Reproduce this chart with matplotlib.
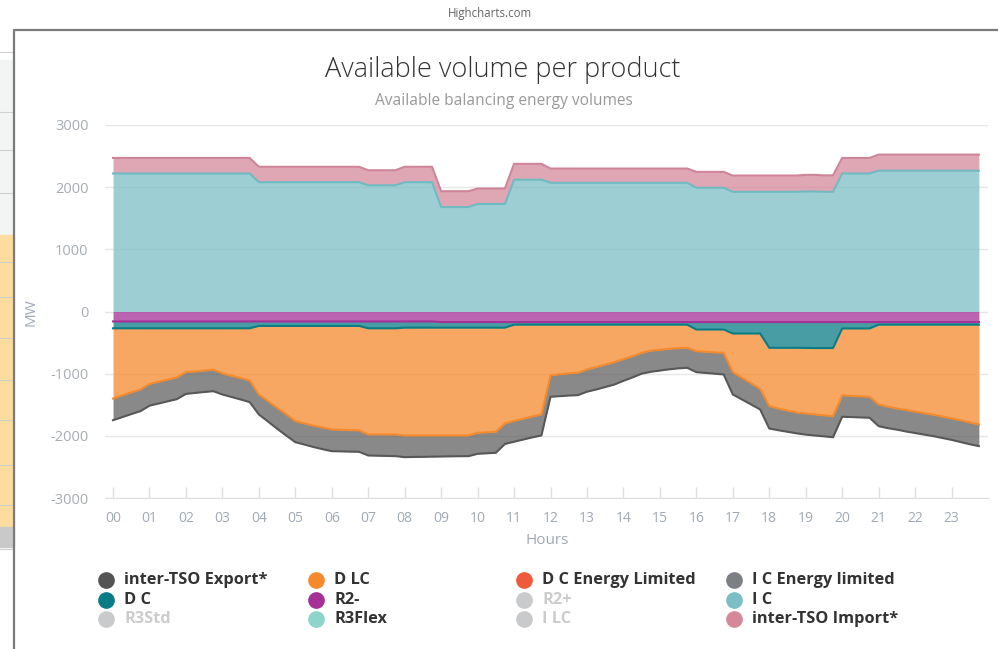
import numpy as np
import matplotlib.pyplot as plt
from matplotlib.lines import Line2D
from matplotlib.patches import Rectangle

# quarter-hour steps over the day
quarter = np.arange(96) / 4
hour_ticks = np.arange(24)
hour_labels = [f"{h:02d}" for h in range(24)]

y_ticks = [-3000, -2000, -1000, 0, 1000, 2000, 3000]
y_tick_labels = ["-3000", "-2000", "-1000", "0", "1000", "2000", "3000"]

# positive stack (MW)
ic = [
    2220, 2220, 2220, 2220, 2220, 2220, 2220, 2220, 2220, 2220, 2220, 2220,
    2220, 2220, 2220, 2220, 2080, 2080, 2080, 2080, 2080, 2080, 2080, 2080,
    2080, 2080, 2080, 2080, 2030, 2030, 2030, 2030, 2080, 2080, 2080, 2080,
    1680, 1680, 1680, 1680, 1730, 1730, 1730, 1730, 2120, 2120, 2120, 2120,
    2070, 2070, 2070, 2070, 2070, 2070, 2070, 2070, 2070, 2070, 2070, 2070,
    2070, 2070, 2070, 2070, 1990, 1990, 1990, 1990, 1925, 1925, 1925, 1925,
    1925, 1925, 1925, 1925, 1930, 1930, 1925, 1925, 2220, 2220, 2220, 2220,
    2265, 2265, 2265, 2265, 2265, 2265, 2265, 2265, 2265, 2265, 2265, 2265,
]
tso_import = [
    250, 250, 250, 250, 250, 250, 250, 250, 250, 250, 250, 250,
    250, 250, 250, 250, 248, 248, 248, 248, 248, 248, 248, 248,
    248, 248, 248, 248, 242, 242, 242, 242, 248, 248, 248, 248,
    255, 255, 255, 255, 248, 248, 248, 248, 255, 255, 255, 255,
    230, 230, 230, 230, 230, 230, 230, 230, 230, 230, 230, 230,
    230, 230, 230, 230, 256, 256, 256, 256, 262, 262, 262, 262,
    262, 262, 262, 262, 268, 268, 265, 265, 250, 250, 250, 250,
    259, 259, 259, 259, 259, 259, 259, 259, 259, 259, 259, 259,
]

# negative stack (MW)
r2_minus = [
    -160, -160, -160, -160, -160, -160, -160, -160, -160, -160, -160, -160,
    -160, -160, -160, -160, -160, -160, -160, -160, -160, -160, -160, -160,
    -160, -160, -160, -160, -160, -160, -160, -160, -160, -160, -160, -160,
    -170, -170, -170, -170, -170, -170, -170, -170, -170, -170, -170, -170,
    -170, -170, -170, -170, -170, -170, -170, -170, -170, -170, -170, -170,
    -170, -170, -170, -170, -170, -170, -170, -170, -170, -170, -170, -170,
    -170, -170, -170, -170, -170, -170, -170, -170, -170, -170, -170, -170,
    -170, -170, -170, -170, -170, -170, -170, -170, -170, -170, -170, -170,
]
dc = [
    -110, -110, -110, -110, -110, -110, -110, -110, -110, -110, -110, -110,
    -110, -110, -110, -110, -72, -72, -72, -72, -72, -72, -72, -72,
    -72, -72, -72, -72, -110, -110, -110, -110, -100, -100, -100, -100,
    -90, -90, -90, -90, -90, -90, -90, -90, -42, -42, -42, -42,
    -42, -42, -42, -42, -42, -42, -42, -42, -42, -42, -42, -42,
    -42, -42, -42, -42, -120, -120, -120, -120, -184, -184, -184, -184,
    -414, -414, -414, -414, -416, -418, -418, -418, -103, -103, -103, -103,
    -42, -42, -42, -42, -42, -42, -42, -42, -42, -42, -42, -42,
]
dlc = [
    -1130, -1080, -1030, -985, -895, -860, -825, -790, -705, -695, -680, -665,
    -725, -765, -800, -840, -1103, -1208, -1318, -1423, -1533, -1568, -1603, -1633,
    -1665, -1671, -1676, -1681, -1708, -1708, -1708, -1708, -1734, -1734, -1734, -1734,
    -1734, -1734, -1734, -1734, -1691, -1683, -1675, -1540, -1548, -1513, -1478, -1444,
    -817, -798, -783, -774, -718, -683, -643, -603, -553, -508, -453, -418,
    -403, -388, -378, -372, -348, -358, -367, -375, -622, -711, -801, -889,
    -938, -976, -1011, -1041, -1054, -1069, -1082, -1097, -1078, -1085, -1092, -1099,
    -1284, -1318, -1348, -1373, -1398, -1423, -1448, -1478, -1508, -1538, -1573, -1605,
]
tso_export = [
    -348, -350, -350, -348, -350, -350, -350, -350, -350, -345, -345, -347,
    -340, -340, -345, -348, -321, -330, -335, -340, -337, -340, -345, -350,
    -350, -347, -346, -344, -338, -342, -345, -349, -349, -346, -344, -341,
    -339, -336, -334, -333, -338, -338, -338, -330, -335, -335, -335, -338,
    -343, -352, -357, -360, -360, -360, -360, -360, -350, -340, -335, -340,
    -335, -330, -325, -322, -338, -340, -343, -348, -359, -350, -340, -333,
    -360, -350, -340, -335, -340, -338, -338, -338, -342, -340, -339, -337,
    -348, -346, -340, -345, -345, -345, -345, -345, -345, -350, -350, -349,
]

legend_names = [
    "inter-TSO Export*", "D LC", "D C Energy Limited", "I C Energy limited",
    "D C", "R2-", "R2+", "I C",
    "R3Std", "R3Flex", "I LC", "inter-TSO Import*",
]
legend_colors = [
    "#545454", "#f58a2d", "#ef5b3a", "#7c8085",
    "#0b7c86", "#a53097", "#c8cacc", "#7cbec6",
    "#c8cacc", "#8dd5ca", "#c8cacc", "#d5889a",
]
legend_hidden = [
    False, False, False, False,
    False, False, True, False,
    True, False, True, False,
]

W, H = 998, 649


def fx(px):
    return px / W


def fy(py):
    return 1 - py / H


def stack(ax, layers):
    base = np.zeros(len(quarter))
    for values, fill, line in layers:
        edge = base + np.array(values)
        ax.fill_between(quarter, base, edge, color=fill, alpha=0.75, lw=0, zorder=2)
        ax.plot(quarter, edge, color=line, lw=1.5, zorder=3, solid_joinstyle="round")
        base = edge


plt.rcParams["font.family"] = ["Open Sans", "DejaVu Sans"]

fig = plt.figure(figsize=(W / 100, H / 100), dpi=100)

# page behind the chart frame
fig.patches.append(Rectangle((0, fy(235)), fx(14), fy(60) - fy(235),
                             transform=fig.transFigure, color="#f3f4f4", zorder=0))
fig.patches.append(Rectangle((0, fy(527)), fx(14), fy(235) - fy(527),
                             transform=fig.transFigure, color="#fddc9f", zorder=0))
fig.patches.append(Rectangle((0, fy(547)), fx(14), fy(527) - fy(547),
                             transform=fig.transFigure, color="#c9c9c9", zorder=0))
for py in [52, 112, 150, 193, 262, 297, 338, 380, 420, 465, 505, 549]:
    fig.add_artist(Line2D([0, fx(13)], [fy(py), fy(py)], color="#d0d0d0", lw=0.8))
fig.add_artist(Line2D([fx(14), fx(14), 1], [0, fy(30), fy(30)], color="#7b7b7b", lw=1.6))

fig.text(fx(490), fy(14), "Highcharts.com", ha="center", va="center",
         fontsize=8.3, color="#666666")

ax = fig.add_axes([fx(105), fy(498), fx(988) - fx(105), fy(125) - fy(498)])

stack(ax, [
    (ic, "#7cbec6", "#6fbbc4"),
    (tso_import, "#d5889a", "#cf8599"),
])
stack(ax, [
    (r2_minus, "#a53097", "#a53097"),
    (dc, "#0b7c86", "#0b7c86"),
    (dlc, "#f58a2d", "#f58a2d"),
    (tso_export, "#616161", "#585858"),
])

ax.set_xlim(-0.22, 24.0)
ax.set_ylim(-3000, 3000)
ax.set_yticks(y_ticks)
ax.set_yticklabels(y_tick_labels)
ax.set_xticks(hour_ticks)
ax.set_xticklabels(hour_labels)
ax.grid(axis="y", color="#e6e6e6", lw=1)
ax.set_axisbelow(True)
for side in ["top", "right", "left"]:
    ax.spines[side].set_visible(False)
ax.spines["bottom"].set_color("#dedede")
ax.tick_params(axis="y", length=0, pad=12, labelsize=10.5, labelcolor="#a7adb4")
ax.tick_params(axis="x", direction="in", length=8, width=1, color="#dedede",
               pad=9, labelsize=10, labelcolor="#9fa9b5")

fig.text(fx(547), fy(540), "Hours", ha="center", va="center", fontsize=11, color="#9fa9b5")
fig.text(fx(31), fy(312), "MW", ha="center", va="center", rotation=90,
         fontsize=11, color="#9fa9b5")

fig.text(fx(503), fy(70), "Available volume per product", ha="center", va="center",
         fontsize=19.5, color="#333333", fontweight="light")
fig.text(fx(504), fy(101), "Available balancing energy volumes", ha="center", va="center",
         fontsize=11.2, color="#999999")

# legend, four columns
col_x = [106, 316, 524, 734]
row_y = [580, 600, 619]
for i, name in enumerate(legend_names):
    mx = col_x[i % 4]
    my = row_y[i // 4]
    fig.add_artist(Line2D([fx(mx)], [fy(my)], marker="o", ms=11, lw=0,
                          color=legend_colors[i]))
    fig.text(fx(mx + 18), fy(my), name, ha="left", va="center", fontsize=11.8,
             fontweight="bold", color="#cccccc" if legend_hidden[i] else "#333333")

fig.savefig("out.png", dpi=100)
